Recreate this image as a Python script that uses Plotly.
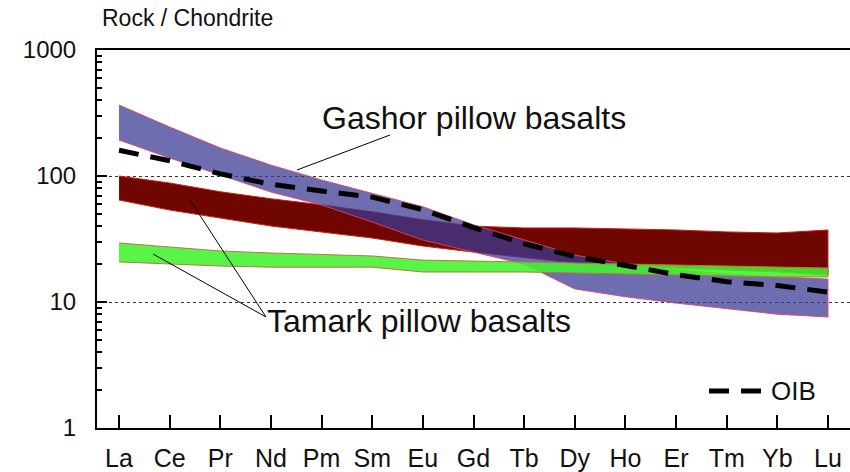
import plotly.graph_objects as go

# Rare earth elements, chondrite-normalised
elements = ["La", "Ce", "Pr", "Nd", "Pm", "Sm", "Eu", "Gd", "Tb", "Dy", "Ho", "Er", "Tm", "Yb", "Lu"]

# Gashor pillow basalts envelope
gashor_upper = [366, 245, 167, 122, 93, 73, 57, 41, 31, 23.6, 20, 18, 16.7, 15.8, 15.2]
gashor_lower = [193, 139, 102, 74.6, 58.9, 43.1, 31, 24.9, 20, 12.7, 11, 9.8, 8.8, 8.0, 7.6]

# Tamark pillow basalts, enriched group
tamark_red_upper = [100, 88, 75, 66, 59, 52, 45, 40, 38.7, 38.7, 38, 37.3, 36, 35.3, 37.3]
tamark_red_lower = [64.5, 53.7, 46.4, 40.1, 35.9, 32.2, 27.8, 24.9, 22.4, 20.4, 19.3, 18.6, 17.9, 17.3, 16.4]

# Tamark pillow basalts, flat group
tamark_green_upper = [29.4, 27.3, 25.4, 24.5, 24.0, 23.2, 21.5, 21.2, 20.8, 20.4, 20.0, 19.7, 19.3, 18.9, 18.6]
tamark_green_lower = [20.8, 20.0, 19.3, 18.9, 18.9, 18.9, 17.3, 17.3, 17.3, 17.0, 16.7, 16.4, 16.1, 15.8, 15.8]

# Ocean island basalt reference pattern
oib = [160, 132, 104, 86, 76, 68, 54, 39, 29, 23, 19.5, 16.5, 14.5, 13.5, 12]

idx = list(range(len(elements)))


def band(upper, lower, fill, edge):
    return go.Scatter(
        x=idx + idx[::-1],
        y=upper + lower[::-1],
        mode="lines",
        fill="toself",
        fillcolor=fill,
        line=dict(color=edge, width=1),
        hoverinfo="skip",
        showlegend=False,
    )


fig = go.Figure()
fig.add_trace(band(tamark_red_upper, tamark_red_lower, "rgb(112,6,0)", "rgb(200,30,20)"))
fig.add_trace(band(gashor_upper, gashor_lower, "rgba(58,58,148,0.74)", "rgba(220,70,100,0.9)"))
fig.add_trace(band(tamark_green_upper, tamark_green_lower, "rgba(66,243,45,0.88)", "rgb(185,120,60)"))
fig.add_trace(go.Scatter(
    x=idx, y=oib, mode="lines",
    line=dict(color="black", width=5, dash="20px,12px"),
    showlegend=False, hoverinfo="skip",
))

# plot area in pixels: x 97..850, y 50..428
L, R, T, B = 97, 850, 50, 428


def px(x):
    return (x - L) / (R - L)


def py(y):
    return (B - y) / (B - T)


line_style = dict(color="black", width=1)
shapes = [
    # pointer lines
    dict(type="line", xref="paper", yref="paper", x0=px(390), y0=py(135), x1=px(297), y1=py(170), line=line_style),
    dict(type="line", xref="paper", yref="paper", x0=px(266), y0=py(317), x1=px(190), y1=py(200), line=line_style),
    dict(type="line", xref="paper", yref="paper", x0=px(266), y0=py(317), x1=px(153), y1=py(254), line=line_style),
    # legend sample
    dict(type="line", xref="paper", yref="paper", x0=px(709), y0=py(391), x1=px(761), y1=py(391),
         line=dict(color="black", width=5, dash="20px,12px")),
]

font_family = "Liberation Sans, Arial, sans-serif"
annotations = [
    dict(text="Rock / Chondrite", xref="paper", yref="paper", x=px(100), y=py(18),
         xanchor="left", yanchor="middle", showarrow=False, font=dict(size=23, color="#111")),
    dict(text="Gashor pillow basalts", xref="paper", yref="paper", x=px(320), y=py(118),
         xanchor="left", yanchor="middle", showarrow=False, font=dict(size=32, color="#111")),
    dict(text="Tamark pillow basalts", xref="paper", yref="paper", x=px(265), y=py(321),
         xanchor="left", yanchor="middle", showarrow=False, font=dict(size=32, color="#111")),
    dict(text="OIB", xref="paper", yref="paper", x=px(769), y=py(391),
         xanchor="left", yanchor="middle", showarrow=False, font=dict(size=26, color="#111")),
]

minor_vals = [m * d for d in (1, 10, 100) for m in range(2, 10)]

fig.update_layout(
    width=850, height=472,
    margin=dict(l=L, r=850 - R, t=T, b=472 - B),
    paper_bgcolor="white", plot_bgcolor="white",
    font=dict(family=font_family, color="#111"),
    shapes=shapes, annotations=annotations,
    showlegend=False,
)
fig.update_xaxes(
    range=[-0.435, 14.435],
    tickmode="array", tickvals=idx, ticktext=elements,
    ticks="inside", ticklen=13, tickwidth=2, tickcolor="black",
    showline=True, linewidth=2, linecolor="black", mirror=True,
    showgrid=False, zeroline=False,
    tickfont=dict(size=25), ticklabelstandoff=7,
)
fig.update_yaxes(
    type="log", range=[0, 3],
    tickmode="array", tickvals=[1, 10, 100, 1000], ticktext=["1", "10", "100", "1000"],
    ticks="inside", ticklen=10, tickwidth=2, tickcolor="black",
    minor=dict(tickmode="array", tickvals=minor_vals, ticks="inside", ticklen=5,
               tickwidth=2, tickcolor="black", showgrid=False),
    showline=True, linewidth=2, linecolor="black",
    showgrid=True, gridcolor="#333", griddash="dot", gridwidth=1,
    zeroline=False,
    tickfont=dict(size=24), ticklabelstandoff=14,
)

fig.write_html("out.html")
